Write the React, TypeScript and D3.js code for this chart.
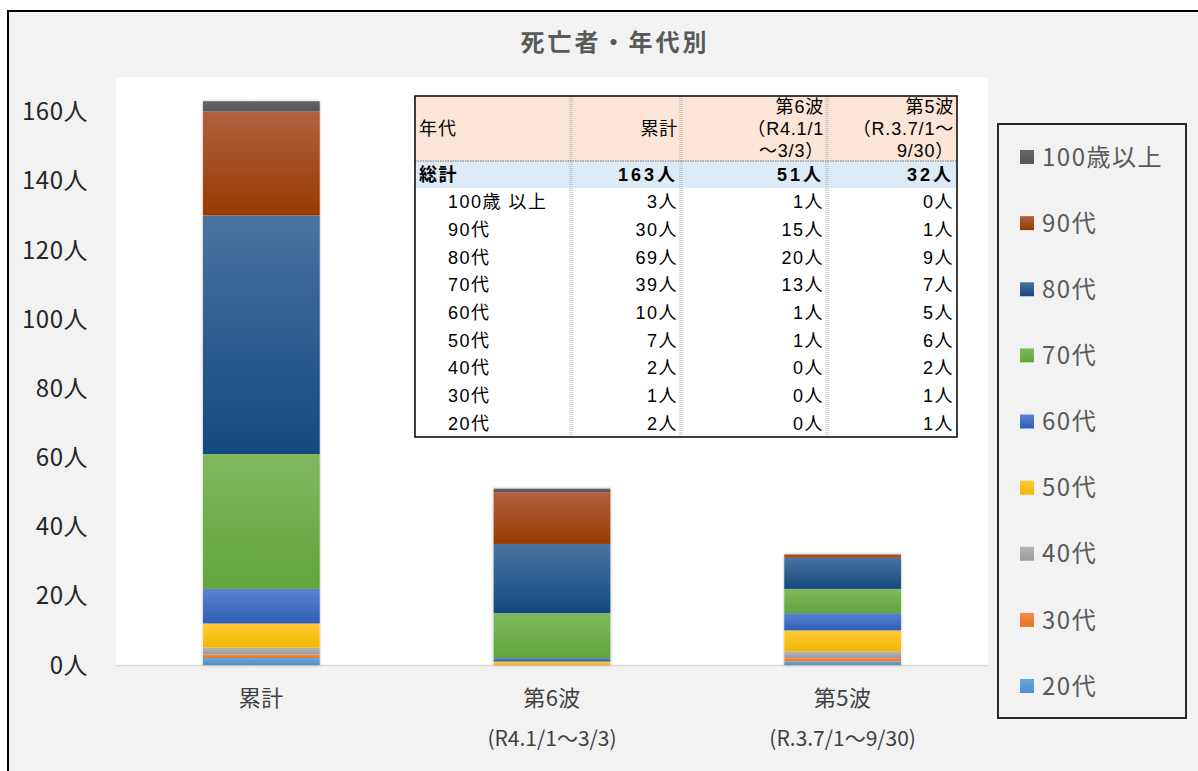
import React from "react";
import * as d3 from "d3";

const categories = ["累計", "第6波", "第5波"];
const categorySub = ["", "(R4.1/1～3/3)", "(R.3.7/1～9/30)"];
const ageGroups = ["20代", "30代", "40代", "50代", "60代", "70代", "80代", "90代", "100歳以上"];
const valuesTotal = [2, 1, 2, 7, 10, 39, 69, 30, 3];
const valuesWave6 = [0, 0, 0, 1, 1, 13, 20, 15, 1];
const valuesWave5 = [1, 1, 2, 6, 5, 7, 9, 1, 0];
const yTicks = [0, 20, 40, 60, 80, 100, 120, 140, 160];
const colorsTop = ["#6aa6dc", "#f38d4d", "#b4b4b4", "#ffc937", "#5b82d2", "#80b95e", "#4a73a0", "#b0613f", "#666666"];
const colorsBottom = ["#4d8fcd", "#e8721f", "#9c9c9c", "#f2b700", "#2f5fb6", "#62a43a", "#14497f", "#983a00", "#555555"];

const tableHeaders = ["年代", "累計", "第6波\n（R4.1/1\n～3/3）", "第5波\n（R.3.7/1～\n9/30）"];
const tableTotals = ["総計", "163人", "51人", "32人"];
const tableRowLabels = ["100歳 以上", "90代", "80代", "70代", "60代", "50代", "40代", "30代", "20代"];
const tableCol1 = ["3人", "30人", "69人", "39人", "10人", "7人", "2人", "1人", "2人"];
const tableCol2 = ["1人", "15人", "20人", "13人", "1人", "1人", "0人", "0人", "0人"];
const tableCol3 = ["0人", "1人", "9人", "7人", "5人", "6人", "2人", "1人", "1人"];

const FONT = "'Noto Sans CJK JP', 'Noto Sans', sans-serif";
const TFONT = "'Liberation Sans', 'Noto Sans CJK JP', sans-serif";

export default function App() {
  const W = 1198, H = 771;
  const plot = { x0: 116, x1: 988, y0: 77, y1: 665 };
  const x = d3.scaleBand<string>().domain(categories).range([plot.x0, plot.x1]).paddingInner(0.598).paddingOuter(0.299);
  const y = d3.scaleLinear().domain([0, 170]).range([plot.y1, plot.y0]);
  const seriesVals = [valuesTotal, valuesWave6, valuesWave5];
  const rows = categories.map((c, i) => {
    const o: any = { cat: c };
    ageGroups.forEach((g, j) => (o[g] = seriesVals[i][j]));
    return o;
  });
  const stack = d3.stack<any>().keys(ageGroups)(rows);

  const colX = [415, 571, 681, 827, 957];
  const tTop = 96, hdrBottom = 161, totBottom = 188, tBottom = 437;
  const rowScale = d3.scaleBand<number>().domain(d3.range(tableRowLabels.length)).range([totBottom, tBottom]);
  const tableCols = [tableCol1, tableCol2, tableCol3];

  const legendOrder = [...ageGroups].reverse();
  const legY = d3.scalePoint<string>().domain(legendOrder).range([157, 686]);

  return (
    <svg width={W} height={H} style={{ position: "absolute", left: 0, top: 0 }} fontFamily={FONT}>
      <defs>
        {ageGroups.map((g, i) => (
          <linearGradient key={g} id={`grad${i}`} x1="0" y1="0" x2="0" y2="1">
            <stop offset="0" stopColor={colorsTop[i]} />
            <stop offset="1" stopColor={colorsBottom[i]} />
          </linearGradient>
        ))}
        <filter id="shadow" x="-10%" y="-10%" width="120%" height="120%">
          <feDropShadow dx="0" dy="0" stdDeviation="1.6" floodColor="#000" floodOpacity="0.3" />
        </filter>
      </defs>
      <rect x={0} y={0} width={W} height={H} fill="#ffffff" />
      <rect x={8} y={11} width={W + 20} height={H + 20} fill="#f2f2f2" stroke="#000" strokeWidth={2} />
      <text x={615} y={51} textAnchor="middle" fontSize={24} letterSpacing={3} fontWeight="bold" fill="#595959">死亡者・年代別</text>
      <rect x={plot.x0} y={plot.y0} width={plot.x1 - plot.x0} height={plot.y1 - plot.y0} fill="#ffffff" />
      <line x1={plot.x0} x2={plot.x1} y1={plot.y1 + 0.5} y2={plot.y1 + 0.5} stroke="#d9d9d9" strokeWidth={1.5} />

      {yTicks.map((t) => (
        <text key={t} x={88} y={y(t)} dy="0.36em" textAnchor="end" fontSize={24} letterSpacing={0.5} fill="#262626">{`${t}人`}</text>
      ))}

      {categories.map((c, ci) => {
        const bx = x(c)!;
        const top = y(d3.sum(seriesVals[ci]));
        return (
          <rect key={"sh" + c} x={bx} y={top} width={x.bandwidth()} height={plot.y1 - top} fill="#ffffff" filter="url(#shadow)" />
        );
      })}
      {stack.map((layer, li) => (
        <g key={layer.key}>
          {layer.map((d, ci) => {
            const h = y(d[0]) - y(d[1]);
            if (h <= 0) return null;
            return (
              <rect key={ci} x={x(categories[ci])!} y={y(d[1])} width={x.bandwidth()} height={h} fill={`url(#grad${li})`} />
            );
          })}
        </g>
      ))}

      {categories.map((c, ci) => (
        <g key={"xl" + c}>
          <text x={x(c)! + x.bandwidth() / 2} y={706} textAnchor="middle" fontSize={22} letterSpacing={0.5} fill="#404040">{c}</text>
          {categorySub[ci] && (
            <text x={x(c)! + x.bandwidth() / 2} y={746} textAnchor="middle" fontSize={21} fill="#404040">{categorySub[ci]}</text>
          )}
        </g>
      ))}

      <g fontFamily={TFONT}>
        <rect x={colX[0]} y={tTop} width={colX[4] - colX[0]} height={tBottom - tTop} fill="#ffffff" />
        <rect x={colX[0]} y={tTop} width={colX[4] - colX[0]} height={hdrBottom - tTop} fill="#fce4d6" />
        <rect x={colX[0]} y={hdrBottom} width={colX[4] - colX[0]} height={totBottom - hdrBottom} fill="#ddebf7" />
        <line x1={colX[0]} x2={colX[4]} y1={hdrBottom} y2={hdrBottom} stroke="#9a9a9a" strokeWidth={1.5} strokeDasharray="1.5,1" />
        {colX.slice(1, 4).map((cx) => (
          <g key={"cl" + cx}>
            <line x1={cx - 1} x2={cx - 1} y1={tTop} y2={tBottom} stroke="#a6a6a6" strokeWidth={1} strokeDasharray="1,1" />
            <line x1={cx + 1} x2={cx + 1} y1={tTop} y2={tBottom} stroke="#a6a6a6" strokeWidth={1} strokeDasharray="1,1" />
          </g>
        ))}
        <rect x={colX[0]} y={tTop} width={colX[4] - colX[0]} height={tBottom - tTop} fill="none" stroke="#000" strokeWidth={1.5} />
        {tableHeaders.map((h, i) => {
          const lines = h.split("\n");
          if (i === 0) {
            return <text key={h} x={colX[0] + 4} y={129} dy="0.36em" fontSize={18} letterSpacing={1} fill="#000">{h}</text>;
          }
          const yPos = lines.length === 1 ? [129] : [107, 129, 151];
          return lines.map((ln, k) => (
            <text key={h + k} x={colX[i + 1] - 3} y={yPos[k]} dy="0.36em" textAnchor="end" fontSize={18} letterSpacing={0.8} fill="#000">{ln}</text>
          ));
        })}
        {tableTotals.map((t, i) => (
          <text key={"tot" + i} x={i === 0 ? colX[0] + 4 : colX[i + 1] - 3} y={(hdrBottom + totBottom) / 2} dy="0.36em"
            textAnchor={i === 0 ? "start" : "end"} fontSize={18} fontWeight="bold" letterSpacing={i === 0 ? 1.5 : 3} fill="#000">{t}</text>
        ))}
        {tableRowLabels.map((lab, r) => {
          const cy = rowScale(r)! + rowScale.bandwidth() / 2;
          return (
            <g key={"row" + r}>
              <text x={colX[0] + 33} y={cy} dy="0.36em" fontSize={18} letterSpacing={1.5} fill="#000">{lab}</text>
              {tableCols.map((col, ci) => (
                <text key={ci} x={colX[ci + 2] - 3} y={cy} dy="0.36em" textAnchor="end" fontSize={18} letterSpacing={1.5} fill="#000">{col[r]}</text>
              ))}
            </g>
          );
        })}
      </g>

      <rect x={998} y={124} width={188} height={594} fill="none" stroke="#262626" strokeWidth={2} />
      {legendOrder.map((g) => {
        const idx = ageGroups.indexOf(g);
        const ly = legY(g)!;
        return (
          <g key={"lg" + g}>
            <rect x={1020} y={ly - 7} width={14} height={14} fill={`url(#grad${idx})`} />
            <text x={1042} y={ly} dy="0.36em" fontSize={24} letterSpacing={1.5} fill="#595959">{g}</text>
          </g>
        );
      })}
    </svg>
  );
}
